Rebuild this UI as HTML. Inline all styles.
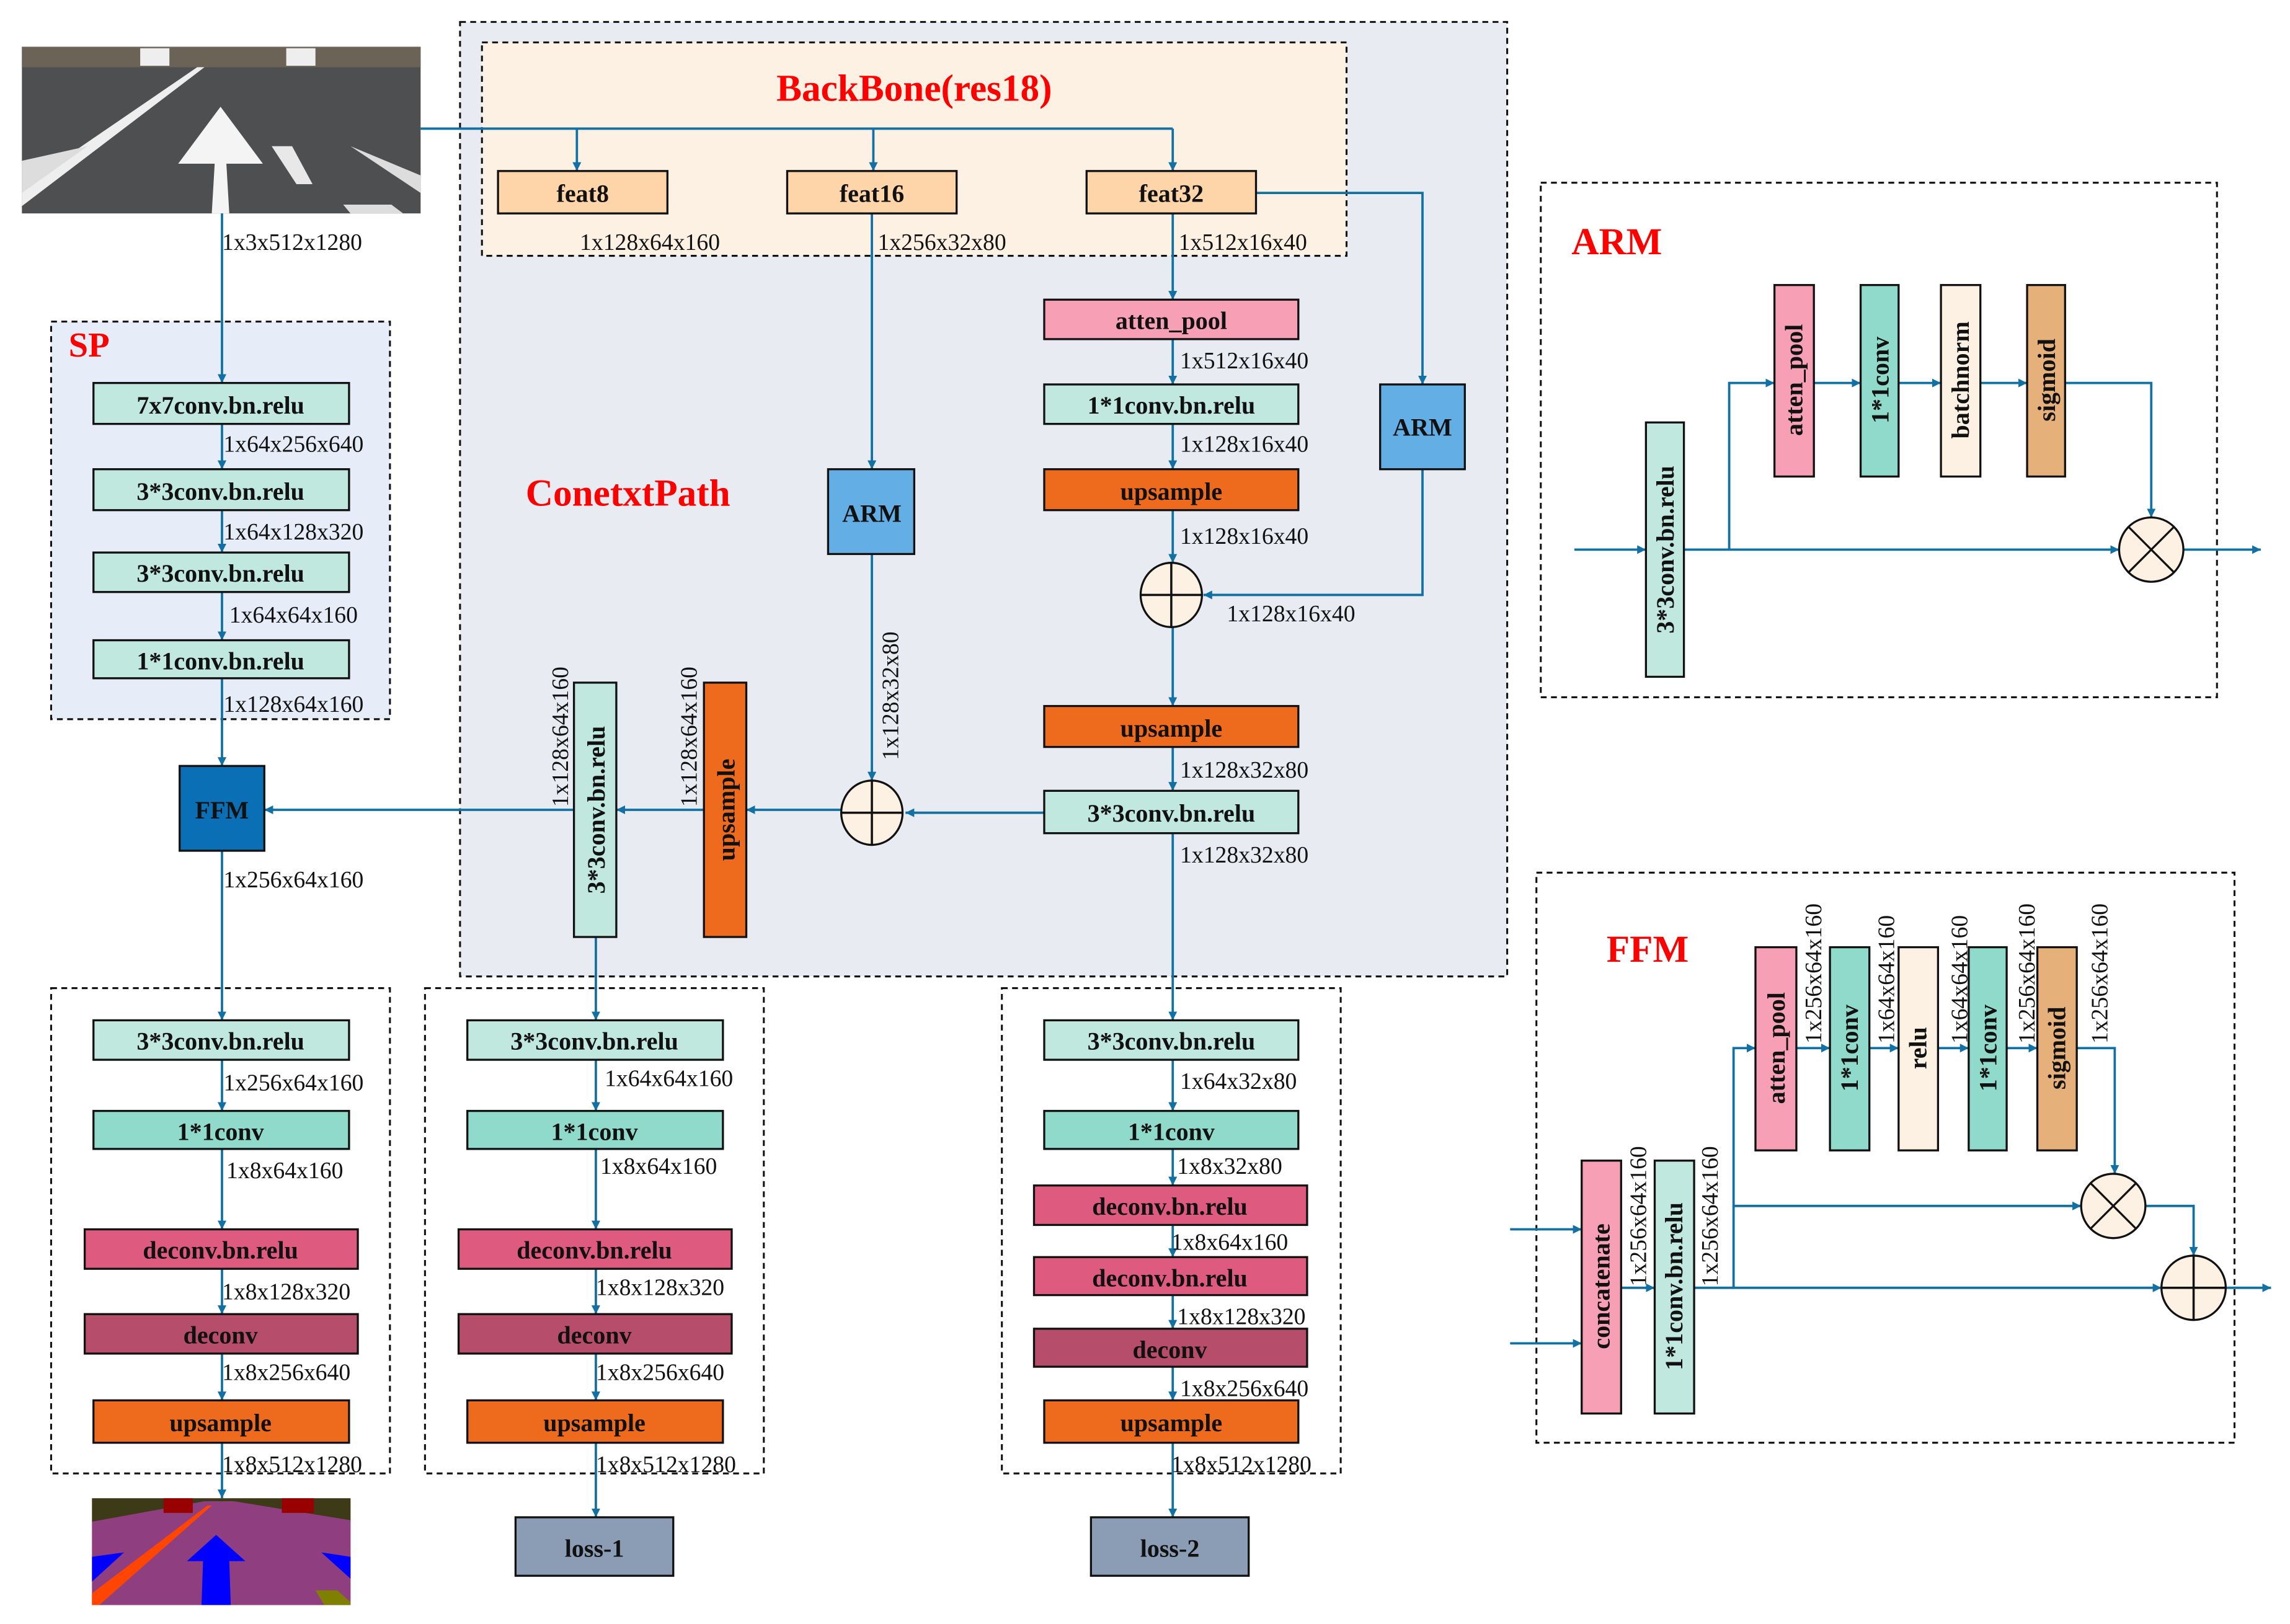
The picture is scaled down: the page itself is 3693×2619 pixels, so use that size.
<!DOCTYPE html>
<html><head><meta charset="utf-8"><style>
html,body{margin:0;padding:0;background:#fff}
svg{display:block}
.b{font-family:"Liberation Serif",serif;font-weight:bold;font-size:17px;text-anchor:middle;fill:#111}
.d{font-family:"Liberation Serif",serif;font-size:16px;fill:#111}
.t{font-family:"Liberation Serif",serif;font-weight:bold;fill:#f00}
.l{stroke:#1170a4;stroke-width:1.6;fill:none}
.bx{stroke:#111;stroke-width:1.4}
.ds{fill:none;stroke:#111;stroke-width:1.3;stroke-dasharray:4 3}
</style></head><body>
<svg width="3693" height="2619" viewBox="0 0 1568 1111" preserveAspectRatio="none" xmlns="http://www.w3.org/2000/svg">
<defs><marker id="a" viewBox="0 0 10 10" refX="10" refY="5" markerWidth="6" markerHeight="6" orient="auto" markerUnits="userSpaceOnUse"><path d="M0,0L10,5L0,10z" fill="#1170a4"/></marker></defs>
<style>.m{marker-end:url(#a)}</style>

<rect x="315" y="15" width="717" height="653" fill="#e8ecf2"/><rect x="315" y="15" width="717" height="653" class="ds"/>
<rect x="330" y="29" width="592" height="146" fill="#fdf1e4"/><rect x="330" y="29" width="592" height="146" class="ds"/>
<rect x="35" y="220" width="232" height="272" fill="#e6edf8"/><rect x="35" y="220" width="232" height="272" class="ds"/>
<rect x="35" y="676" width="232" height="332" class="ds"/>
<rect x="291" y="676" width="232" height="332" class="ds"/>
<rect x="686" y="676" width="232" height="332" class="ds"/>
<rect x="1055" y="125" width="463" height="352" class="ds"/>
<rect x="1052" y="597" width="478" height="390" class="ds"/>

<rect x="15" y="32" width="273" height="114" fill="#4e4f51"/>
<rect x="15" y="32" width="273" height="14" fill="#6b6356"/>
<polygon points="15,141 15,128 135,46 140,46" fill="#eee"/>
<polygon points="145,146 147,112 122,112 151,73 180,112 155,112 157,146" fill="#f4f4f4"/>
<polygon points="15,110 15,132 60,100" fill="#ddd"/>
<polygon points="186,100 200,100 214,126 203,126" fill="#e8e8e8"/>
<polygon points="240,100 288,120 288,132" fill="#ddd"/>
<polygon points="235,140 268,140 276,146 240,146" fill="#ddd"/>
<rect x="96" y="33" width="20" height="12" fill="#eee"/><rect x="196" y="33" width="20" height="12" fill="#eee"/>

<rect x="63" y="1025" width="177" height="73" fill="#8f3f7f"/>
<rect x="63" y="1025" width="177" height="16" fill="#3d3a18"/>
<polygon points="63,1041 140,1027 160,1027 240,1040 240,1098 63,1098" fill="#8f3f7f"/>
<rect x="112" y="1025" width="20" height="10" fill="#900"/><rect x="193" y="1025" width="22" height="10" fill="#900"/>
<polygon points="63,1090 63,1098 68,1098 145,1030 142,1030" fill="#ff4500"/>
<polygon points="138,1098 139,1068 128,1068 148,1050 168,1068 157,1068 158,1098" fill="#0000ff"/>
<polygon points="63,1065 63,1082 85,1062" fill="#00f"/><polygon points="220,1062 240,1065 240,1080" fill="#00f"/>
<polygon points="216,1088 231,1088 240,1096 240,1098 222,1098" fill="#808000"/>

<path class="l" d="M288,88H803"/>
<path class="l m" d="M395,88V117"/><path class="l m" d="M598,88V117"/><path class="l m" d="M803,88V117"/>
<path class="l m" d="M152,146V262"/>
<path class="l m" d="M152,290V321"/><path class="l m" d="M152,349V378"/><path class="l m" d="M152,405V438"/><path class="l m" d="M152,464V524"/>
<path class="l m" d="M152,582V698"/>
<path class="l m" d="M860,132H974V263"/>
<path class="l m" d="M803,146V205"/><path class="l m" d="M803,232V263"/><path class="l m" d="M803,290V321"/><path class="l m" d="M803,349V385"/>
<path class="l m" d="M974,321V407H824"/>
<path class="l m" d="M803,429V483"/><path class="l m" d="M803,511V541"/>
<path class="l m" d="M715,556H620"/>
<path class="l m" d="M597,146V321"/><path class="l m" d="M597,379V534"/>
<path class="l m" d="M576,554H511"/><path class="l m" d="M482,554H422"/><path class="l m" d="M393,554H181"/>
<path class="l m" d="M408,641V698"/>
<path class="l m" d="M803,570V698"/>
<path class="l m" d="M152,725V760"/><path class="l m" d="M152,786V841"/><path class="l m" d="M152,868V899"/><path class="l m" d="M152,926V958"/><path class="l m" d="M152,987V1025"/>
<path class="l m" d="M408,725V760"/><path class="l m" d="M408,786V841"/><path class="l m" d="M408,868V899"/><path class="l m" d="M408,926V958"/><path class="l m" d="M408,987V1038"/>
<path class="l m" d="M803,725V760"/><path class="l m" d="M803,786V811"/><path class="l m" d="M803,838V860"/><path class="l m" d="M803,886V909"/><path class="l m" d="M803,935V958"/><path class="l m" d="M803,987V1038"/>

<text class="t" x="626" y="69" font-size="26" text-anchor="middle">BackBone(res18)</text>
<text class="t" x="430" y="346" font-size="26" text-anchor="middle">ConetxtPath</text>
<text class="t" x="47" y="244" font-size="24">SP</text>

<rect class="bx" x="341" y="117" width="116" height="29" fill="#fdd5a8"/><text class="b" x="399" y="138">feat8</text>
<rect class="bx" x="539" y="117" width="116" height="29" fill="#fdd5a8"/><text class="b" x="597" y="138">feat16</text>
<rect class="bx" x="744" y="117" width="116" height="29" fill="#fdd5a8"/><text class="b" x="802" y="138">feat32</text>
<text class="d" x="397" y="171">1x128x64x160</text>
<text class="d" x="601" y="171">1x256x32x80</text>
<text class="d" x="807" y="171">1x512x16x40</text>

<rect class="bx" x="715" y="205" width="174" height="27" fill="#f7a0b5"/><text class="b" x="802" y="225">atten_pool</text>
<text class="d" x="808" y="252">1x512x16x40</text>
<rect class="bx" x="715" y="263" width="174" height="27" fill="#c0e8df"/><text class="b" x="802" y="283">1*1conv.bn.relu</text>
<text class="d" x="808" y="309">1x128x16x40</text>
<rect class="bx" x="715" y="321" width="174" height="28" fill="#ee6b1e"/><text class="b" x="802" y="342">upsample</text>
<text class="d" x="808" y="372">1x128x16x40</text>
<ellipse class="bx" cx="802" cy="407" rx="21" ry="22" fill="#fdf1e4"/><path d="M802,385V429M781,407H823" stroke="#111" stroke-width="1.5"/>
<text class="d" x="840" y="425">1x128x16x40</text>
<rect class="bx" x="945" y="263" width="58" height="58" fill="#64aee6"/><text class="b" x="974" y="298">ARM</text>
<rect class="bx" x="715" y="483" width="174" height="28" fill="#ee6b1e"/><text class="b" x="802" y="504">upsample</text>
<text class="d" x="808" y="532">1x128x32x80</text>
<rect class="bx" x="715" y="541" width="174" height="29" fill="#c0e8df"/><text class="b" x="802" y="562">3*3conv.bn.relu</text>
<text class="d" x="808" y="590">1x128x32x80</text>
<rect class="bx" x="567" y="321" width="59" height="58" fill="#64aee6"/><text class="b" x="597" y="357">ARM</text>
<text class="d" transform="translate(615,520) rotate(-90)">1x128x32x80</text>
<ellipse class="bx" cx="597" cy="556" rx="21" ry="22" fill="#fdf1e4"/><path d="M597,534V578M576,556H618" stroke="#111" stroke-width="1.5"/>
<rect class="bx" x="482" y="467" width="29" height="174" fill="#ee6b1e"/><text class="b" transform="translate(503,554) rotate(-90)">upsample</text>
<text class="d" transform="translate(477,552) rotate(-90)">1x128x64x160</text>
<rect class="bx" x="393" y="467" width="29" height="174" fill="#c0e8df"/><text class="b" transform="translate(414,554) rotate(-90)">3*3conv.bn.relu</text>
<text class="d" transform="translate(389,552) rotate(-90)">1x128x64x160</text>
<rect class="bx" x="123" y="524" width="58" height="58" fill="#0b6fb5"/><text class="b" x="152" y="560">FFM</text>

<rect class="bx" x="64" y="262" width="175" height="28" fill="#c0e8df"/><text class="b" x="151" y="283">7x7conv.bn.relu</text>
<text class="d" x="153" y="309">1x64x256x640</text>
<rect class="bx" x="64" y="321" width="175" height="28" fill="#c0e8df"/><text class="b" x="151" y="342">3*3conv.bn.relu</text>
<text class="d" x="153" y="369">1x64x128x320</text>
<rect class="bx" x="64" y="378" width="175" height="27" fill="#c0e8df"/><text class="b" x="151" y="398">3*3conv.bn.relu</text>
<text class="d" x="157" y="426">1x64x64x160</text>
<rect class="bx" x="64" y="438" width="175" height="26" fill="#c0e8df"/><text class="b" x="151" y="458">1*1conv.bn.relu</text>
<text class="d" x="153" y="487">1x128x64x160</text>
<text class="d" x="152" y="171">1x3x512x1280</text>
<text class="d" x="153" y="607">1x256x64x160</text>

<rect class="bx" x="64" y="698" width="175" height="27" fill="#c0e8df"/><text class="b" x="151" y="718">3*3conv.bn.relu</text>
<text class="d" x="153" y="746">1x256x64x160</text>
<rect class="bx" x="64" y="760" width="175" height="26" fill="#8fdacb"/><text class="b" x="151" y="780">1*1conv</text>
<text class="d" x="155" y="806">1x8x64x160</text>
<rect class="bx" x="58" y="841" width="187" height="27" fill="#de5b7f"/><text class="b" x="151" y="861">deconv.bn.relu</text>
<text class="d" x="152" y="889">1x8x128x320</text>
<rect class="bx" x="58" y="899" width="187" height="27" fill="#b64d6a"/><text class="b" x="151" y="919">deconv</text>
<text class="d" x="152" y="944">1x8x256x640</text>
<rect class="bx" x="64" y="958" width="175" height="29" fill="#ee6b1e"/><text class="b" x="151" y="979">upsample</text>
<text class="d" x="152" y="1007">1x8x512x1280</text>

<rect class="bx" x="320" y="698" width="175" height="27" fill="#c0e8df"/><text class="b" x="407" y="718">3*3conv.bn.relu</text>
<text class="d" x="414" y="743">1x64x64x160</text>
<rect class="bx" x="320" y="760" width="175" height="26" fill="#8fdacb"/><text class="b" x="407" y="780">1*1conv</text>
<text class="d" x="411" y="803">1x8x64x160</text>
<rect class="bx" x="314" y="841" width="187" height="27" fill="#de5b7f"/><text class="b" x="407" y="861">deconv.bn.relu</text>
<text class="d" x="408" y="886">1x8x128x320</text>
<rect class="bx" x="314" y="899" width="187" height="27" fill="#b64d6a"/><text class="b" x="407" y="919">deconv</text>
<text class="d" x="408" y="944">1x8x256x640</text>
<rect class="bx" x="320" y="958" width="175" height="29" fill="#ee6b1e"/><text class="b" x="407" y="979">upsample</text>
<text class="d" x="408" y="1007">1x8x512x1280</text>
<rect class="bx" x="353" y="1038" width="108" height="40" fill="#8a9db5"/><text class="b" x="407" y="1065">loss-1</text>

<rect class="bx" x="715" y="698" width="174" height="27" fill="#c0e8df"/><text class="b" x="802" y="718">3*3conv.bn.relu</text>
<text class="d" x="808" y="745">1x64x32x80</text>
<rect class="bx" x="715" y="760" width="174" height="26" fill="#8fdacb"/><text class="b" x="802" y="780">1*1conv</text>
<text class="d" x="806" y="803">1x8x32x80</text>
<rect class="bx" x="708" y="811" width="187" height="27" fill="#de5b7f"/><text class="b" x="801" y="831">deconv.bn.relu</text>
<text class="d" x="802" y="855">1x8x64x160</text>
<rect class="bx" x="708" y="860" width="187" height="26" fill="#de5b7f"/><text class="b" x="801" y="880">deconv.bn.relu</text>
<text class="d" x="806" y="906">1x8x128x320</text>
<rect class="bx" x="708" y="909" width="187" height="26" fill="#b64d6a"/><text class="b" x="801" y="929">deconv</text>
<text class="d" x="808" y="955">1x8x256x640</text>
<rect class="bx" x="715" y="958" width="174" height="29" fill="#ee6b1e"/><text class="b" x="802" y="979">upsample</text>
<text class="d" x="802" y="1007">1x8x512x1280</text>
<rect class="bx" x="747" y="1038" width="108" height="40" fill="#8a9db5"/><text class="b" x="801" y="1065">loss-2</text>

<text class="t" x="1076" y="174" font-size="26">ARM</text>
<path class="l m" d="M1078,376H1127"/>
<path class="l m" d="M1153,376H1451"/>
<path class="l m" d="M1184,376V262H1215"/>
<path class="l m" d="M1242,262H1274"/><path class="l m" d="M1300,262H1329"/><path class="l m" d="M1356,262H1388"/>
<path class="l m" d="M1414,262H1473V354"/>
<path class="l m" d="M1495,376H1548"/>
<rect class="bx" x="1127" y="289" width="26" height="174" fill="#c0e8df"/><text class="b" transform="translate(1146,376) rotate(-90)">3*3conv.bn.relu</text>
<rect class="bx" x="1215" y="195" width="27" height="131" fill="#f7a0b5"/><text class="b" transform="translate(1234,260) rotate(-90)">atten_pool</text>
<rect class="bx" x="1274" y="195" width="26" height="131" fill="#8fdacb"/><text class="b" transform="translate(1293,260) rotate(-90)">1*1conv</text>
<rect class="bx" x="1329" y="195" width="27" height="131" fill="#fdf1e4"/><text class="b" transform="translate(1348,260) rotate(-90)">batchnorm</text>
<rect class="bx" x="1388" y="195" width="26" height="131" fill="#e6b07a"/><text class="b" transform="translate(1407,260) rotate(-90)">sigmoid</text>
<ellipse class="bx" cx="1473" cy="376" rx="22" ry="22" fill="#fdf1e4"/><path d="M1457,360L1489,392M1489,360L1457,392" stroke="#111" stroke-width="1.4"/>

<text class="t" x="1100" y="658" font-size="26">FFM</text>
<path class="l m" d="M1034,841H1083"/><path class="l m" d="M1034,919H1083"/>
<path class="l m" d="M1110,881H1133"/>
<path class="l m" d="M1160,881H1480"/>
<path class="l m" d="M1187,881V717H1202"/>
<path class="l m" d="M1187,825H1425"/>
<path class="l m" d="M1230,717H1253"/><path class="l m" d="M1280,717H1300"/><path class="l m" d="M1327,717H1348"/><path class="l m" d="M1374,717H1395"/>
<path class="l m" d="M1422,717H1448V803"/>
<path class="l m" d="M1469,825H1502V859"/>
<path class="l m" d="M1524,881H1555"/>
<rect class="bx" x="1083" y="794" width="27" height="173" fill="#f7a0b5"/><text class="b" transform="translate(1102,880) rotate(-90)">concatenate</text>
<rect class="bx" x="1133" y="794" width="27" height="173" fill="#c0e8df"/><text class="b" transform="translate(1152,880) rotate(-90)">1*1conv.bn.relu</text>
<text class="d" transform="translate(1127,880) rotate(-90)">1x256x64x160</text>
<text class="d" transform="translate(1176,880) rotate(-90)">1x256x64x160</text>
<rect class="bx" x="1202" y="648" width="28" height="139" fill="#f7a0b5"/><text class="b" transform="translate(1222,717) rotate(-90)">atten_pool</text>
<rect class="bx" x="1253" y="648" width="27" height="139" fill="#8fdacb"/><text class="b" transform="translate(1272,717) rotate(-90)">1*1conv</text>
<rect class="bx" x="1300" y="648" width="27" height="139" fill="#fdf1e4"/><text class="b" transform="translate(1319,717) rotate(-90)">relu</text>
<rect class="bx" x="1348" y="648" width="26" height="139" fill="#8fdacb"/><text class="b" transform="translate(1367,717) rotate(-90)">1*1conv</text>
<rect class="bx" x="1395" y="648" width="27" height="139" fill="#e6b07a"/><text class="b" transform="translate(1414,717) rotate(-90)">sigmoid</text>
<text class="d" transform="translate(1247,714) rotate(-90)">1x256x64x160</text>
<text class="d" transform="translate(1297,714) rotate(-90)">1x64x64x160</text>
<text class="d" transform="translate(1347,714) rotate(-90)">1x64x64x160</text>
<text class="d" transform="translate(1393,714) rotate(-90)">1x256x64x160</text>
<text class="d" transform="translate(1443,714) rotate(-90)">1x256x64x160</text>
<ellipse class="bx" cx="1447" cy="825" rx="22" ry="22" fill="#fdf1e4"/><path d="M1431,809L1463,841M1463,809L1431,841" stroke="#111" stroke-width="1.4"/>
<ellipse class="bx" cx="1502" cy="881" rx="22" ry="22" fill="#fdf1e4"/><path d="M1502,859V903M1480,881H1524" stroke="#111" stroke-width="1.5"/>
</svg>
</body></html>
